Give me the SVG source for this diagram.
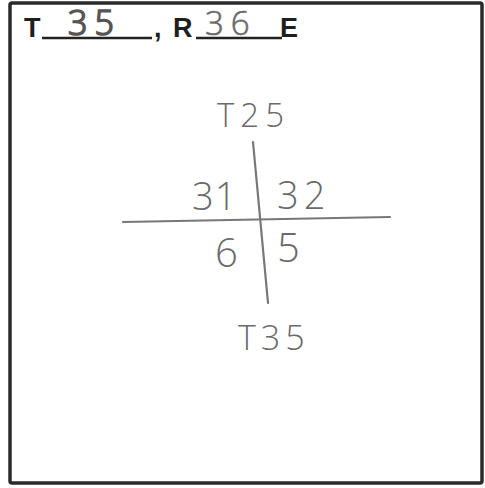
<svg xmlns="http://www.w3.org/2000/svg" width="485" height="488" viewBox="0 0 485 488">
<style>
.frame{fill:none;stroke:#2a2a2a;stroke-width:3.5}
.print{font-family:"Liberation Sans",Arial,sans-serif;font-weight:bold;fill:#1e1e1e;font-size:27px}
.pen{font-family:"Open Sans","DejaVu Sans",sans-serif;font-weight:300;fill:#6a6a6a}
.uline{stroke:#222;stroke-width:2.5}
.grid{stroke:#777;stroke-width:2.2;fill:none;stroke-linecap:round}
</style>
<rect width="485" height="488" fill="#fff"/>
<rect class="frame" x="10" y="3" width="472" height="480" rx="2"/>
<g id="header">
<text class="print" x="24" y="37">T</text>
<line class="uline" x1="42" y1="38" x2="152" y2="38"/>
<text class="pen" x="68" y="35" font-size="34" fill="#555" stroke="#555" stroke-width="1.6" letter-spacing="7">35</text>
<text class="print" x="154" y="37">,</text>
<text class="print" x="173" y="37">R</text>
<line class="uline" x1="196" y1="38" x2="282" y2="38"/>
<text class="pen" x="205" y="35" font-size="33" stroke="#6a6a6a" stroke-width="0.6" letter-spacing="7">36</text>
<text class="print" x="280" y="37">E</text>
</g>
<g id="connectors">
<path class="grid" d="M253,142 L268,303"/>
<path class="grid" d="M123,222 L390,217"/>
</g>
<g id="n-t25"><text class="pen" x="217" y="127" font-size="33" letter-spacing="6">T25</text></g>
<g id="n-31"><text class="pen" x="192" y="210" font-size="38" letter-spacing="1">31</text></g>
<g id="n-32"><text class="pen" x="277" y="209" font-size="38" letter-spacing="5">32</text></g>
<g id="n-6"><text class="pen" x="215" y="267" font-size="40">6</text></g>
<g id="n-5"><text class="pen" x="277" y="262" font-size="40">5</text></g>
<g id="n-t35"><text class="pen" x="238" y="350" font-size="34" letter-spacing="5">T35</text></g>
</svg>
